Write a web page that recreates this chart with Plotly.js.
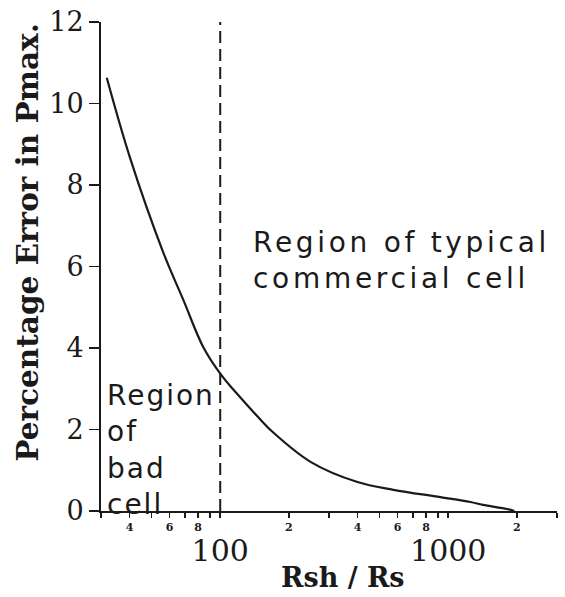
<!DOCTYPE html>
<html>
<head>
<meta charset="utf-8">
<script src="https://cdn.plot.ly/plotly-3.0.1.min.js"></script>
<style>html,body{margin:0;padding:0;background:#fff;}#chart{width:565px;height:597px;}</style>
</head>
<body>
<div id="chart"></div>
<script>
// Data
const ratioRshRs = [31.8, 40.1, 56.4, 68.9, 84.3, 101, 117.5, 151, 169, 250, 400, 575, 923, 1250, 1420, 1810, 1950];
const errorPmax = [10.63, 8.69, 6.33, 5.18, 4.02, 3.34, 2.90, 2.23, 1.95, 1.20, 0.71, 0.52, 0.34, 0.22, 0.15, 0.05, 0];

const xTickVals = [30, 40, 50, 60, 70, 80, 90, 100, 200, 300, 400, 500, 600, 700, 800, 900, 1000, 2000, 3000];
const xTickText = ['', '4', '', '6', '', '8', '', '', '2', '', '4', '', '6', '', '8', '', '', '2', ''];
const xMajorVals = [100, 1000];
const xMajorText = ['100', '1000'];
const yMajorVals = [0, 2, 4, 6, 8, 10, 12];
const yMajorText = ['0', '2', '4', '6', '8', '10', '12'];
const yMax = 12;
const yMinorStep = 0.2;
const boundaryRatio = 100;

const ink = '#1a1a1a';
const serif = 'DejaVu Serif';
const sans = 'DejaVu Sans';

const plotWidth = 565 - 101 - 8;
const minorTickLen = 7;

// y-axis minor tick positions (every 0.2)
const yMinorVals = [];
for (let i = 0; i <= Math.round(yMax / yMinorStep); i++) yMinorVals.push(+(i * yMinorStep).toFixed(1));

const traces = [{
  x: ratioRshRs, y: errorPmax, type: 'scatter', mode: 'lines',
  line: {color: ink, width: 2.2, shape: 'spline', smoothing: 1},
  hoverinfo: 'skip', showlegend: false
}, {
  x: xMajorVals, y: [0, 0], xaxis: 'x2', yaxis: 'y', type: 'scatter', mode: 'markers',
  marker: {opacity: 0}, hoverinfo: 'skip', showlegend: false
}, {
  // minor tick marks: short horizontal dashes just outside the y axis line
  x: yMinorVals.map(() => -minorTickLen / 2), y: yMinorVals,
  xaxis: 'x3', yaxis: 'y', type: 'scatter', mode: 'markers', cliponaxis: false,
  marker: {symbol: 'line-ew', size: minorTickLen, line: {color: ink, width: 1.6}},
  hoverinfo: 'skip', showlegend: false
}];

const layout = {
  width: 565, height: 597,
  margin: {l: 101, r: 8, t: 22, b: 86},
  paper_bgcolor: '#ffffff', plot_bgcolor: '#ffffff',
  showlegend: false,
  xaxis: {
    type: 'log', range: [Math.log10(30), Math.log10(3000)],
    showgrid: false, zeroline: false,
    showline: true, linecolor: ink, linewidth: 2,
    ticks: 'outside', ticklen: 5, tickwidth: 1.5, tickcolor: ink,
    tickmode: 'array', tickvals: xTickVals, ticktext: xTickText,
    tickangle: 0,
    tickfont: {family: serif, size: 11, color: ink, weight: 'bold'}
  },
  xaxis2: {
    type: 'log', range: [Math.log10(30), Math.log10(3000)],
    overlaying: 'x', anchor: 'y', side: 'bottom',
    showgrid: false, zeroline: false, showline: false,
    ticks: '', tickmode: 'array', tickvals: xMajorVals, ticktext: xMajorText,
    ticklabelstandoff: 19,
    tickfont: {family: serif, size: 30, color: ink}
  },
  xaxis3: {
    range: [0, plotWidth], overlaying: 'x', anchor: 'y', visible: false,
    showgrid: false, zeroline: false, fixedrange: true
  },
  yaxis: {
    range: [0, yMax],
    showgrid: false, zeroline: false,
    showline: true, linecolor: ink, linewidth: 2,
    ticks: 'outside', ticklen: 10, tickwidth: 1.8, tickcolor: ink,
    tickmode: 'array', tickvals: yMajorVals, ticktext: yMajorText,
    tickfont: {family: serif, size: 27, color: ink}
  },
  shapes: [{
    type: 'line', xref: 'x', yref: 'y',
    x0: boundaryRatio, x1: boundaryRatio, y0: 0, y1: yMax,
    line: {color: ink, width: 2, dash: '12px,6px'}
  }],
  annotations: [{
    xref: 'paper', yref: 'paper', x: 0.53, y: -0.135, xanchor: 'center', yanchor: 'middle',
    text: 'Rsh / Rs', showarrow: false,
    font: {family: serif, size: 27, color: ink, weight: 'bold'}
  }, {
    xref: 'paper', yref: 'paper', x: -0.163, y: 0.55, xanchor: 'center', yanchor: 'middle',
    textangle: -90, showarrow: false,
    text: 'Percentage Error in Pmax.',
    font: {family: serif, size: 29.5, color: ink, weight: 'bold'}
  }, {
    xref: 'x', yref: 'y', x: Math.log10(boundaryRatio), y: 7.05, xanchor: 'left', yanchor: 'top',
    xshift: 31, align: 'left', showarrow: false,
    text: '<span style="letter-spacing:3.7px">Region of typical<br>commercial cell</span>',
    font: {family: sans, size: 28, color: ink}
  }, {
    xref: 'paper', yref: 'y', x: 0, y: 3.3, xanchor: 'left', yanchor: 'top',
    xshift: 4, align: 'left', showarrow: false,
    text: '<span style="letter-spacing:2px">Region<br>of<br>bad<br>cell</span>',
    font: {family: sans, size: 28, color: ink}
  }]
};

Plotly.newPlot('chart', traces, layout, {displayModeBar: false, staticPlot: true});
</script>
</body>
</html>
